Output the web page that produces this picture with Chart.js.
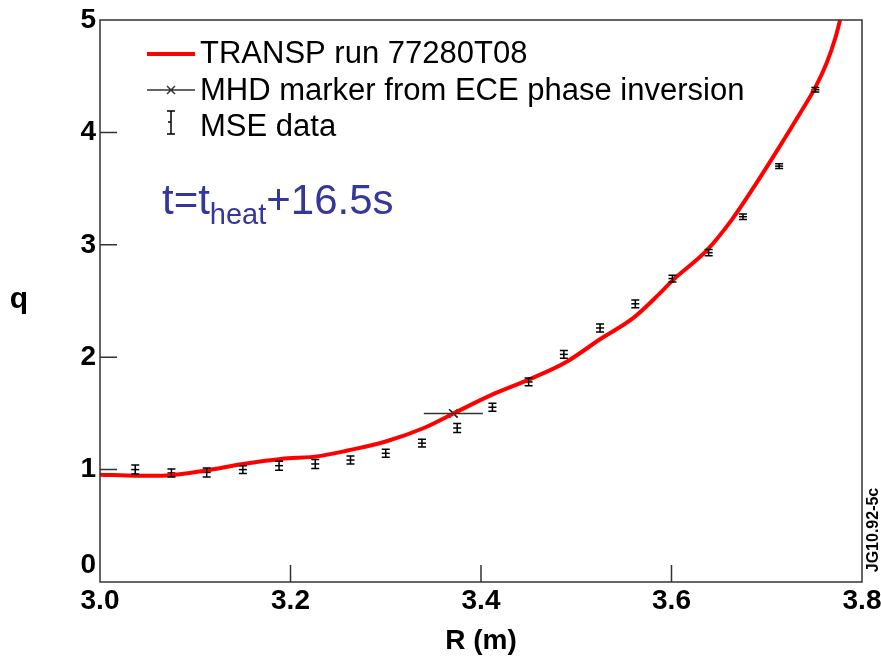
<!DOCTYPE html>
<html>
<head>
<meta charset="utf-8">
<script src="https://cdn.jsdelivr.net/npm/chart.js@4.4.0/dist/chart.umd.min.js"></script>
<style>
  html, body { margin: 0; padding: 0; background: #fff; }
  #wrap { width: 881px; height: 658px; }
</style>
</head>
<body>
<div id="wrap"><canvas id="qChart" width="881" height="658"></canvas></div>
<script>
// TRANSP q profile, R in metres
const transpR = [3.00, 3.04, 3.07, 3.11, 3.15, 3.19, 3.23, 3.26, 3.30, 3.34, 3.37, 3.41, 3.45, 3.49, 3.525, 3.56, 3.588, 3.602, 3.637, 3.663, 3.69, 3.711, 3.735, 3.751, 3.763, 3.772, 3.777];
const transpQ = [0.955, 0.945, 0.948, 0.99, 1.05, 1.095, 1.12, 1.17, 1.25, 1.37, 1.495, 1.66, 1.80, 1.96, 2.16, 2.35, 2.57, 2.69, 2.95, 3.22, 3.56, 3.84, 4.17, 4.40, 4.62, 4.84, 5.0];

// MSE data with vertical error bars
const mseR = [3.037, 3.075, 3.112, 3.15, 3.188, 3.226, 3.263, 3.300, 3.338, 3.375, 3.412, 3.45, 3.487, 3.525, 3.562, 3.601, 3.639, 3.675, 3.713, 3.751];
const mseQ = [1.00, 0.97, 0.975, 1.00, 1.035, 1.05, 1.085, 1.145, 1.235, 1.37, 1.555, 1.78, 2.025, 2.26, 2.475, 2.70, 2.93, 3.25, 3.70, 4.38];
const mseErr = [0.04, 0.035, 0.04, 0.035, 0.04, 0.04, 0.035, 0.035, 0.035, 0.04, 0.035, 0.035, 0.035, 0.035, 0.035, 0.03, 0.028, 0.025, 0.022, 0.02];

// MHD marker from ECE phase inversion (horizontal error)
const mhdR = [3.371];
const mhdQ = [1.5];
const mhdRErr = [0.031];

const xTicks = [3.0, 3.2, 3.4, 3.6, 3.8];
const yTicks = [0, 1, 2, 3, 4, 5];

const FONT = '"Liberation Sans", Arial, sans-serif';

// error bars, inward tick marks, frame, legend and labels
const extras = {
    id: 'extras',
    afterDatasetsDraw(chart) {
        const { ctx, scales: { x, y } } = chart;
        ctx.save();
        ctx.strokeStyle = '#000';
        ctx.lineWidth = 1.5;
        ctx.beginPath();
        mseR.forEach((r, i) => {
            const px = x.getPixelForValue(r);
            const top = y.getPixelForValue(mseQ[i] + mseErr[i]);
            const bot = y.getPixelForValue(mseQ[i] - mseErr[i]);
            ctx.moveTo(px, top); ctx.lineTo(px, bot);
            ctx.moveTo(px - 4, top); ctx.lineTo(px + 4, top);
            ctx.moveTo(px - 4, bot); ctx.lineTo(px + 4, bot);
        });
        ctx.stroke();

        ctx.strokeStyle = '#333';
        ctx.beginPath();
        mhdR.forEach((r, i) => {
            const py = y.getPixelForValue(mhdQ[i]);
            ctx.moveTo(x.getPixelForValue(r - mhdRErr[i]), py);
            ctx.lineTo(x.getPixelForValue(r + mhdRErr[i]), py);
        });
        ctx.stroke();
        ctx.restore();
    },
    afterDraw(chart) {
        const { ctx, chartArea: a, scales: { x, y } } = chart;
        ctx.save();
        // frame
        ctx.strokeStyle = '#333';
        ctx.lineWidth = 1.5;
        ctx.strokeRect(a.left, a.top, a.right - a.left, a.bottom - a.top);
        // inward ticks
        ctx.beginPath();
        xTicks.slice(1, -1).forEach(v => {
            const px = x.getPixelForValue(v);
            ctx.moveTo(px, a.bottom); ctx.lineTo(px, a.bottom - 17);
        });
        yTicks.slice(1, -1).forEach(v => {
            const py = y.getPixelForValue(v);
            ctx.moveTo(a.left, py); ctx.lineTo(a.left + 17, py);
        });
        ctx.stroke();

        // legend
        ctx.textBaseline = 'middle';
        ctx.textAlign = 'left';
        ctx.fillStyle = '#000';
        ctx.font = '31px ' + FONT;
        ctx.strokeStyle = '#ff0000';
        ctx.lineWidth = 4;
        ctx.beginPath(); ctx.moveTo(147, 54); ctx.lineTo(195, 54); ctx.stroke();
        ctx.fillText('TRANSP run 77280T08', 200, 54);

        ctx.strokeStyle = '#333';
        ctx.lineWidth = 1.5;
        ctx.beginPath();
        ctx.moveTo(147, 90); ctx.lineTo(195, 90);
        ctx.moveTo(167, 86); ctx.lineTo(175, 94);
        ctx.moveTo(175, 86); ctx.lineTo(167, 94);
        ctx.stroke();
        ctx.fillText('MHD marker from ECE phase inversion', 200, 91);

        ctx.strokeStyle = '#000';
        ctx.beginPath();
        ctx.moveTo(171, 111); ctx.lineTo(171, 134);
        ctx.moveTo(167, 111); ctx.lineTo(175, 111);
        ctx.moveTo(167, 134); ctx.lineTo(175, 134);
        ctx.moveTo(168, 122); ctx.lineTo(171, 122);
        ctx.stroke();
        ctx.fillText('MSE data', 200, 127);

        // time annotation
        ctx.textBaseline = 'alphabetic';
        ctx.fillStyle = '#35379a';
        ctx.font = '42px ' + FONT;
        let tx = 162;
        ctx.fillText('t=t', tx, 214);
        tx += ctx.measureText('t=t').width;
        ctx.font = '29px ' + FONT;
        ctx.fillText('heat', tx, 224);
        tx += ctx.measureText('heat').width;
        ctx.font = '42px ' + FONT;
        ctx.fillText('+16.5s', tx, 214);

        // y title (upright)
        ctx.fillStyle = '#000';
        ctx.textAlign = 'center';
        ctx.textBaseline = 'middle';
        ctx.font = 'bold 30px ' + FONT;
        ctx.fillText('q', 19, 300);

        // figure code
        ctx.translate(874, 530);
        ctx.rotate(-Math.PI / 2);
        ctx.font = 'bold 16px ' + FONT;
        ctx.fillText('JG10.92-5c', 0, 0);
        ctx.restore();
    }
};

const ctx = document.getElementById('qChart').getContext('2d');
const qChart = new Chart(ctx, {
    type: 'line',
    data: {
        datasets: [
            {
                label: 'MSE data',
                type: 'scatter',
                data: mseR.map((r, i) => ({ x: r, y: mseQ[i] })),
                pointStyle: 'line',
                pointRadius: 4,
                borderColor: '#000',
                backgroundColor: '#000',
                borderWidth: 1.5,
                showLine: false,
                order: 3
            },
            {
                label: 'MHD marker from ECE phase inversion',
                type: 'scatter',
                data: mhdR.map((r, i) => ({ x: r, y: mhdQ[i] })),
                pointStyle: 'crossRot',
                pointRadius: 6,
                borderColor: '#111',
                borderWidth: 1.5,
                showLine: false,
                order: 2
            },
            {
                label: 'TRANSP run 77280T08',
                data: transpR.map((r, i) => ({ x: r, y: transpQ[i] })),
                borderColor: '#ff0000',
                borderWidth: 4,
                pointRadius: 0,
                fill: false,
                cubicInterpolationMode: 'monotone',
                order: 1
            }
        ]
    },
    options: {
        responsive: false,
        animation: false,
        layout: { padding: { left: 0, top: 20, right: 19, bottom: 0 } },
        plugins: { legend: { display: false }, tooltip: { enabled: false } },
        scales: {
            x: {
                type: 'linear',
                min: 3.0,
                max: 3.8,
                afterBuildTicks: s => { s.ticks = xTicks.map(v => ({ value: v })); },
                ticks: {
                    color: '#000',
                    font: { family: FONT, size: 28, weight: 'bold' },
                    padding: 2,
                    maxRotation: 0,
                    callback: v => v.toFixed(1)
                },
                grid: { display: false, drawTicks: false },
                border: { display: false },
                title: {
                    display: true,
                    text: 'R (m)',
                    color: '#000',
                    font: { family: FONT, size: 28, weight: 'bold' },
                    padding: { top: 0, bottom: 0 }
                },
                afterFit: s => { s.height = 76; s.paddingLeft = 0; s.paddingRight = 0; }
            },
            y: {
                type: 'linear',
                min: 0,
                max: 5,
                afterBuildTicks: s => { s.ticks = yTicks.map(v => ({ value: v })); },
                ticks: {
                    color: '#000',
                    font: { family: FONT, size: 28, weight: 'bold' },
                    padding: 4,
                    callback: v => (v === 0 ? ['0', ''] : String(v))
                },
                grid: { display: false, drawTicks: false },
                border: { display: false },
                afterFit: s => { s.width = 100; s.paddingTop = 0; s.paddingBottom = 0; }
            }
        }
    },
    plugins: [extras]
});
</script>
</body>
</html>
